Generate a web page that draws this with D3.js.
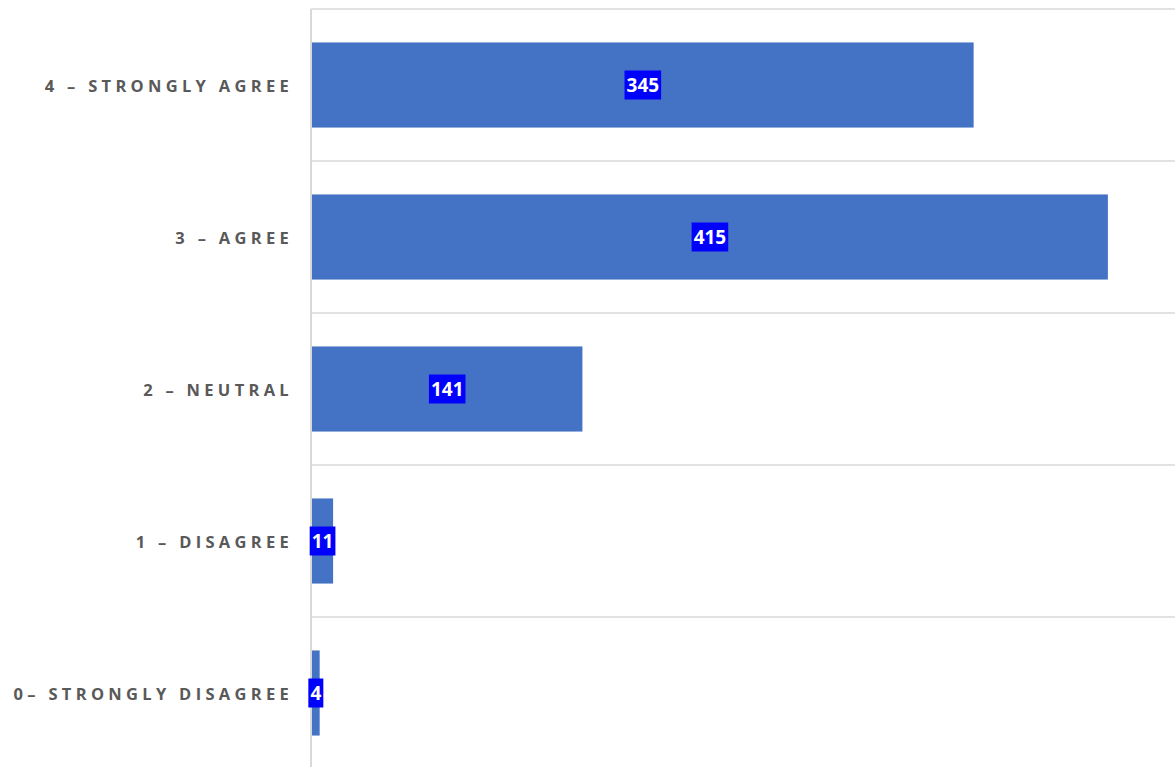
<!DOCTYPE html>
<html><head><meta charset="utf-8">
<script src="https://cdn.jsdelivr.net/npm/d3@7"></script>
<style>
html,body{margin:0;padding:0;background:#fff;}
svg{display:block;}
</style></head>
<body>
<svg id="c" width="1175" height="767"></svg>
<script>
const categories = ["4 – STRONGLY AGREE","3 – AGREE","2 – NEUTRAL","1 – DISAGREE","0– STRONGLY DISAGREE"];
const values = [345, 415, 141, 11, 4];
const xMax = 450;

const svg = d3.select("#c");
const mLeft = 312, mRight = 1175, mTop = 9, mBottom = 769;
const x = d3.scaleLinear().domain([0, xMax]).range([mLeft, mRight]);
const y = d3.scaleBand().domain(categories).range([mTop, mBottom]).paddingInner(0.44).paddingOuter(0.22);

// gridlines at band boundaries
const step = y.step();
const bounds = d3.range(categories.length + 1).map(i => mTop + i * step);
svg.append("g").selectAll("line").data(bounds).join("line")
  .attr("x1", mLeft - 1).attr("x2", mRight)
  .attr("y1", d => d).attr("y2", d => d)
  .attr("stroke", "#d9d9d9").attr("stroke-width", 1.5);

// bars
svg.append("g").selectAll("rect").data(values).join("rect")
  .attr("x", x(0))
  .attr("y", (d, i) => y(categories[i]))
  .attr("width", d => x(d) - x(0))
  .attr("height", y.bandwidth())
  .attr("fill", "#4472c4");

// axis line
svg.append("line").attr("x1", mLeft - 1).attr("x2", mLeft - 1)
  .attr("y1", mTop).attr("y2", 767)
  .attr("stroke", "#d9d9d9").attr("stroke-width", 2);

// category labels
svg.append("g").selectAll("text").data(categories).join("text")
  .attr("x", 293)
  .attr("y", d => y(d) + y.bandwidth() / 2)
  .attr("text-anchor", "end")
  .attr("dominant-baseline", "central")
  .attr("font-family", "'Open Sans', sans-serif")
  .attr("font-weight", "bold")
  .attr("font-size", 16.5)
  .attr("letter-spacing", "4.3px")
  .attr("fill", "#595959")
  .text(d => d);

// data labels with blue boxes
const lg = svg.append("g").selectAll("g").data(values).join("g")
  .attr("transform", (d, i) => `translate(${(x(0) + x(d)) / 2},${y(categories[i]) + y.bandwidth() / 2})`);
const lt = lg.append("text")
  .attr("text-anchor", "middle")
  .attr("dominant-baseline", "central")
  .attr("font-family", "'Open Sans', sans-serif")
  .attr("font-weight", "bold")
  .attr("font-size", 19)
  .attr("fill", "#fff")
  .text(d => d);
lt.each(function() {
  const bb = this.getBBox();
  d3.select(this.parentNode).insert("rect", "text")
    .attr("x", -bb.width / 2 - 2).attr("y", -14.5)
    .attr("width", bb.width + 4).attr("height", 29)
    .attr("fill", "#0000ff");
});
</script>
</body></html>
